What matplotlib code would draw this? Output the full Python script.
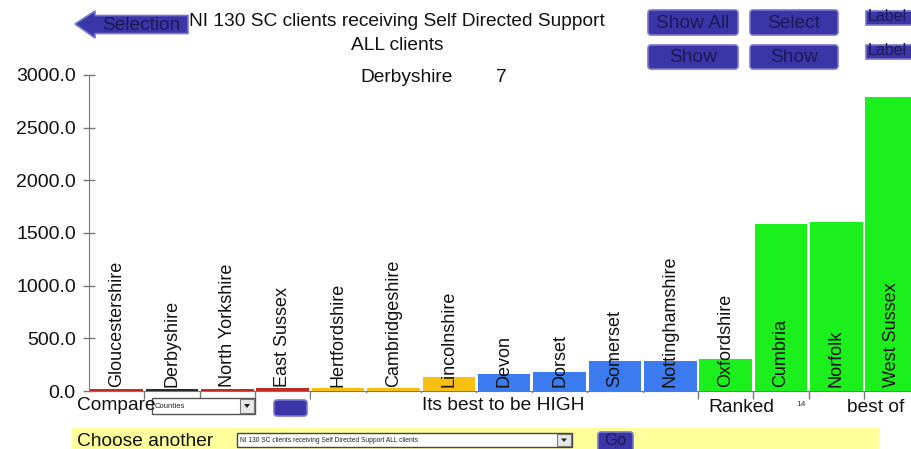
import matplotlib
matplotlib.use("Agg")
import matplotlib.pyplot as plt
from matplotlib.patches import Rectangle, FancyBboxPatch, Polygon

plt.rcParams['font.family'] = ['Liberation Sans', 'DejaVu Sans']

# ---------------- data ----------------
areas = ["Gloucestershire", "Derbyshire", "North Yorkshire", "East Sussex",
         "Hertfordshire", "Cambridgeshire", "Lincolnshire", "Devon", "Dorset",
         "Somerset", "Nottinghamshire", "Oxfordshire", "Cumbria", "Norfolk",
         "West Sussex"]
values = [18, 20, 22, 25, 28, 32, 133, 160, 180, 285, 285, 304, 1585, 1605, 2790]
bar_colors = ["#c42a22", "#2a2a2a", "#c42a22", "#c42a22",
              "#f7c010", "#f7c010", "#f7c010",
              "#3c7af0", "#3c7af0", "#3c7af0", "#3c7af0",
              "#1cf01c", "#1cf01c", "#1cf01c", "#1cf01c"]
y_ticks = [0, 500, 1000, 1500, 2000, 2500, 3000]
title_line1 = "NI 130 SC clients receiving Self Directed Support"
title_line2 = "ALL clients"
selected_area = "Derbyshire"
selected_rank = "7"
rank_total = "14"

W, H = 911, 449
fig = plt.figure(figsize=(W / 100, H / 100), dpi=100)
fig.patch.set_facecolor("white")
FS = 13.8

# ---------------- main chart ----------------
ax_l, ax_r, ax_b, ax_t = 89, 911, 391, 75
ax = fig.add_axes([ax_l / W, (H - ax_b) / H, (ax_r - ax_l) / W, (ax_b - ax_t) / H])
x = list(range(len(areas)))
ax.bar(x, values, width=0.95, color=bar_colors, zorder=2)
ax.set_xlim(-0.5, 14.35)
ax.set_ylim(0, 3000)
ax.set_yticks(y_ticks)
ax.set_yticklabels([f"{v:.1f}" for v in y_ticks], fontsize=14, color="#111111")
ax.tick_params(axis="y", direction="inout", length=9, width=1, color="#777777", pad=5)
ax.set_xticks([i + 0.5 for i in range(len(areas) - 1)])
ax.set_xticklabels([])
ax.tick_params(axis="x", direction="out", length=6, width=1, color="#777777")
for s in ["top", "right"]:
    ax.spines[s].set_visible(False)
ax.spines["left"].set_color("#777777")
ax.spines["bottom"].set_color("#777777")
ax.spines["bottom"].set_zorder(1)
ax.patch.set_alpha(0)

for xi, name in zip(x, areas):
    ax.text(xi, 38, name, rotation=90, ha="center", va="bottom", fontsize=13,
            color="#111111", zorder=3)

# ---------------- overlay (dashboard widgets) ----------------
ov = fig.add_axes([0, 0, 1, 1], zorder=10)
ov.set_xlim(0, W)
ov.set_ylim(H, 0)
ov.axis("off")
ov.patch.set_alpha(0)

# white cover below axis in middle
ov.add_patch(Rectangle((311, 392.5), 386, 28, facecolor="white", edgecolor="none"))

btn_face = "#3b36a8"
btn_edge = "#7a76cc"
btn_text = "#1a1a55"


def button(x0, y0, w, h, label, fs=FS, ty=None):
    ov.add_patch(FancyBboxPatch((x0, y0), w, h, boxstyle="round,pad=0,rounding_size=3",
                                facecolor=btn_face, edgecolor=btn_edge, linewidth=1.2))
    if label:
        ov.text(x0 + w / 2, (y0 + h / 2 + 1) if ty is None else ty, label,
                ha="center", va="center", fontsize=fs, color=btn_text)


# Selection arrow
ov.add_patch(Polygon([(75, 24), (95, 11), (95, 15.5), (188, 15.5), (188, 33.5),
                      (95, 33.5), (95, 38)], closed=True,
                     facecolor=btn_face, edgecolor=btn_edge, linewidth=1.2))
ov.text(141, 25.5, "Selection", ha="center", va="center", fontsize=FS, color=btn_text)

# title
ov.text(397, 22, title_line1, ha="center", va="center", fontsize=FS, color="#111111")
ov.text(397, 45, title_line2, ha="center", va="center", fontsize=FS, color="#111111")
ov.text(360, 77, selected_area, ha="left", va="center", fontsize=FS, color="#111111")
ov.text(501, 77, selected_rank, ha="center", va="center", fontsize=FS, color="#111111")

# top-right buttons
button(648, 10, 90, 25, "Show All")
button(750, 10, 88, 25, "Select")
button(648, 45, 90, 24, "Show")
button(750, 45, 88, 24, "Show")
ov.add_patch(Rectangle((866, 11), 50, 14, facecolor=btn_face, edgecolor=btn_edge, linewidth=1.2))
ov.add_patch(Rectangle((866, 45), 50, 14, facecolor=btn_face, edgecolor=btn_edge, linewidth=1.2))
ov.text(868, 24, "Label", ha="left", va="bottom", fontsize=11.5, color=btn_text)
ov.text(868, 58, "Label", ha="left", va="bottom", fontsize=11.5, color=btn_text)
# cover the lower part of "Label" text beyond buttons
ov.add_patch(Rectangle((866, 25.6), 50, 10, facecolor="white", edgecolor="none", zorder=5))
ov.add_patch(Rectangle((866, 59.6), 50, 10, facecolor="white", edgecolor="none", zorder=5))

# compare row
ov.text(77, 406, "Compare", ha="left", va="center", fontsize=FS, color="#111111")
ov.add_patch(Rectangle((152, 398), 103, 16, facecolor="white", edgecolor="#555555", linewidth=1))
ov.text(155, 406, "Counties", ha="left", va="center", fontsize=5.5, color="#222222")
ov.add_patch(Rectangle((240, 399), 14, 14, facecolor="#e8e8e8", edgecolor="#777777", linewidth=0.8))
ov.add_patch(Polygon([(244, 404), (250, 404), (247, 408)], closed=True, facecolor="#222222"))
button(274, 400, 33, 16, "")
ov.text(503, 406, "Its best to be HIGH", ha="center", va="center", fontsize=FS, color="#111111")
ov.text(708, 408, "Ranked", ha="left", va="center", fontsize=FS, color="#111111")
ov.text(801, 405, rank_total, ha="center", va="center", fontsize=6, color="#333333")
ov.text(847, 408, "best of", ha="left", va="center", fontsize=FS, color="#111111")

# bottom yellow band
ov.add_patch(Rectangle((72, 428), 808, 25, facecolor="#ffff9c", edgecolor="none"))
ov.text(77, 442, "Choose another", ha="left", va="center", fontsize=FS, color="#111111")
ov.add_patch(Rectangle((237, 433), 335, 14, facecolor="white", edgecolor="#444444", linewidth=1))
ov.text(240, 440, title_line1 + " " + title_line2, ha="left", va="center",
        fontsize=4.8, color="#222222")
ov.add_patch(Rectangle((557, 434), 14, 12, facecolor="#e8e8e8", edgecolor="#777777", linewidth=0.8))
ov.add_patch(Polygon([(561, 438.5), (567, 438.5), (564, 442)], closed=True, facecolor="#222222"))
button(598, 432, 35, 22, "Go", fs=12, ty=440.5)

fig.savefig("out.png", dpi=100, facecolor="white")
